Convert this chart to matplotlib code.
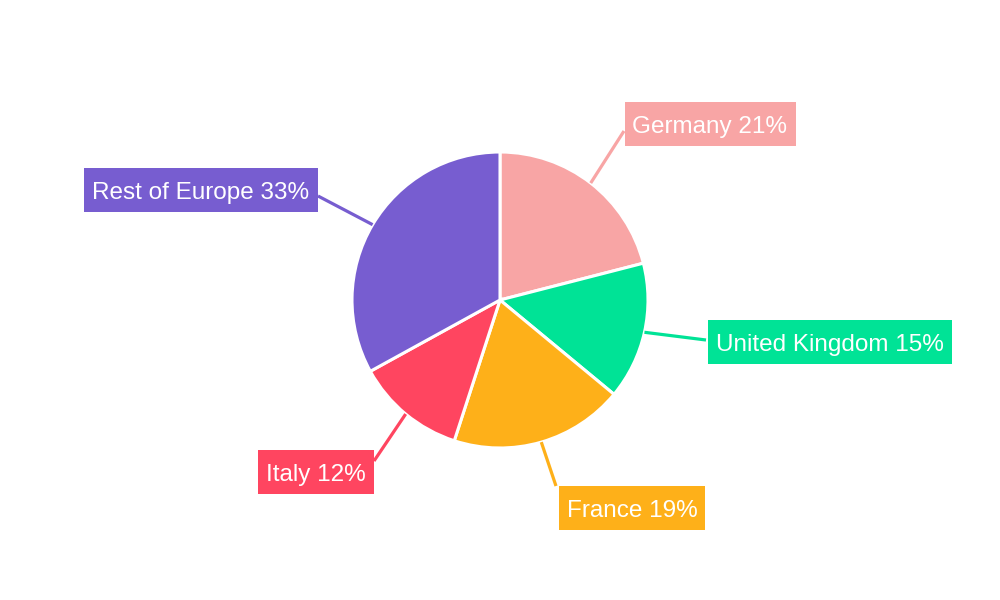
import matplotlib.pyplot as plt
import numpy as np
from matplotlib.patches import Rectangle

plt.rcParams["font.family"] = ["Liberation Sans", "DejaVu Sans"]

countries = ["Germany", "United Kingdom", "France", "Italy", "Rest of Europe"]
shares = [21, 15, 19, 12, 33]
colors = ["#F8A5A5", "#00E396", "#FEB019", "#FF4560", "#775DD0"]

# label box centres and leader-line end points, in pixel coords (y from top)
label_centres = [(710, 124), (830, 342), (632, 508), (316, 472), (201, 190)]
leader_ends = [(624, 131), (706, 340), (556, 486), (374, 461), (318, 196)]

W, H = 1000, 600
cx, cy, radius = 500, 300, 148
box_h, pad_x = 44, 8

fig = plt.figure(figsize=(10, 6), dpi=100)
ax = fig.add_axes([0, 0, 1, 1])
ax.set_xlim(0, W)
ax.set_ylim(0, H)
ax.set_aspect("equal")
ax.axis("off")

ax.pie(
    shares,
    colors=colors,
    startangle=90,
    counterclock=False,
    center=(cx, H - cy),
    radius=radius,
    wedgeprops={"edgecolor": "white", "linewidth": 2.2},
)
ax.set_xlim(0, W)
ax.set_ylim(0, H)

renderer = fig.canvas.get_renderer()
total = sum(shares)
start = 90.0
for name, share, color, (tx, ty), (ex, ey) in zip(
    countries, shares, colors, label_centres, leader_ends
):
    sweep = 360.0 * share / total
    mid = np.deg2rad(start - sweep / 2)
    start -= sweep
    sx = cx + radius * np.cos(mid)
    sy = (H - cy) + radius * np.sin(mid)
    ax.plot([sx, ex], [sy, H - ey], color=color, linewidth=2.3, solid_capstyle="butt", zorder=1)
    label = ax.text(
        tx,
        H - ty - 9,
        f"{name} {share}%",
        ha="center",
        va="baseline",
        color="white",
        fontsize=17.5,
        zorder=4,
    )
    text_w = label.get_window_extent(renderer).width
    box_w = text_w + 2 * pad_x
    ax.add_patch(
        Rectangle((tx - box_w / 2, H - ty - box_h / 2), box_w, box_h,
                  facecolor=color, edgecolor="none", zorder=3)
    )

fig.savefig("out.png", dpi=100, facecolor="white")
